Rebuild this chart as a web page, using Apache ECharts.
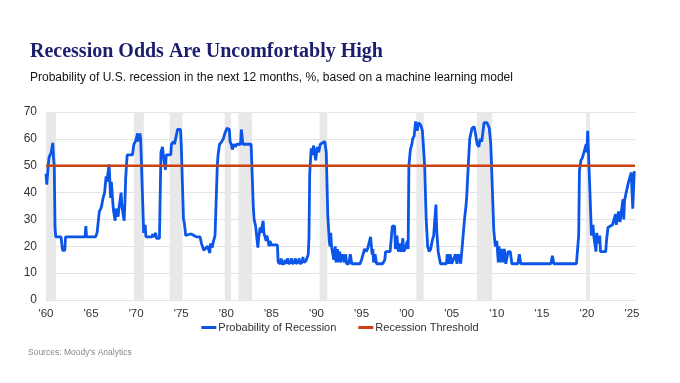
<!DOCTYPE html>
<html><head><meta charset="utf-8">
<script src="https://cdn.jsdelivr.net/npm/echarts@6/dist/echarts.min.js"></script>
<style>html,body{margin:0;padding:0;background:#fff}#c{width:680px;height:383px}</style>
</head><body><div id="c"></div>
<script>
const months = [
'1960-01','1960-02','1960-04','1960-05','1960-07','1960-08','1960-09','1960-10','1960-11','1960-12',
'1961-01','1961-02','1961-09','1961-11','1962-02','1962-03','1964-05','1964-06','1964-07','1965-07',
'1965-09','1965-12','1966-02','1966-03','1966-05','1966-07','1966-09','1966-10','1967-01','1967-03',
'1967-04','1967-06','1967-07','1967-09','1967-10','1968-01','1968-02','1968-04','1968-05','1968-06',
'1968-09','1968-10','1968-11','1969-01','1969-08','1969-10','1969-12','1970-01','1970-03','1970-04',
'1970-06','1970-07','1970-11','1971-01','1971-02','1971-10','1971-11','1972-01','1972-03','1972-04',
'1972-08','1972-10','1972-12','1973-02','1973-04','1973-05','1973-11','1973-12','1974-03','1974-04',
'1974-07','1974-08','1974-12','1975-01','1975-04','1975-05','1975-07','1975-08','1975-12','1976-03',
'1976-05','1976-09','1977-02','1977-04','1977-07','1977-09','1977-12','1978-03','1978-04','1978-06',
'1978-08','1978-10','1978-11','1979-01','1979-02','1979-04','1979-07','1979-09','1979-11','1980-02',
'1980-05','1980-06','1980-08','1980-09','1980-11','1981-01','1981-03','1981-08','1981-09','1981-11',
'1982-10','1983-01','1983-02','1983-04','1983-07','1983-08','1983-10','1983-11','1984-02','1984-03',
'1984-06','1984-07','1984-10','1984-11','1985-01','1985-09','1985-10','1986-01','1986-02','1986-03',
'1986-06','1986-07','1986-08','1986-11','1986-12','1987-03','1987-04','1987-05','1987-08','1987-09',
'1987-10','1988-01','1988-02','1988-03','1988-06','1988-07','1988-08','1988-11','1989-02','1989-03',
'1989-04','1989-06','1989-08','1989-09','1989-12','1990-02','1990-04','1990-06','1990-09','1990-12',
'1991-02','1991-04','1991-06','1991-07','1991-08','1991-09','1991-11','1991-12','1992-02','1992-03',
'1992-05','1992-06','1992-08','1992-09','1992-12','1993-02','1993-04','1993-05','1993-08','1993-10',
'1993-12','1994-11','1995-01','1995-03','1995-05','1995-07','1995-09','1996-01','1996-03','1996-04',
'1996-05','1996-07','1996-09','1997-05','1997-08','1997-09','1998-03','1998-06','1998-09','1998-10',
'1998-12','1999-02','1999-04','1999-06','1999-08','1999-09','1999-11','2000-02','2000-03','2000-04',
'2000-06','2000-08','2000-09','2000-11','2001-01','2001-03','2001-05','2001-08','2001-10','2002-01',
'2002-03','2002-05','2002-07','2002-09','2002-11','2003-01','2003-04','2003-05','2003-07','2003-10',
'2004-06','2004-07','2004-09','2004-11','2005-01','2005-06','2005-08','2005-10','2006-01','2006-03',
'2006-06','2006-08','2006-09','2006-11','2007-01','2007-04','2007-07','2007-11','2008-01','2008-03',
'2008-05','2008-08','2008-12','2009-03','2009-05','2009-06','2009-09','2009-11','2010-01','2010-03',
'2010-04','2010-05','2010-07','2010-09','2010-11','2011-01','2011-04','2011-07','2011-09','2012-05',
'2012-07','2012-09','2016-01','2016-03','2016-05','2018-11','2019-01','2019-02','2019-03','2019-05',
'2019-07','2019-09','2019-10','2019-12','2020-01','2020-02','2020-03','2020-05','2020-07','2020-09',
'2020-10','2021-01','2021-02','2021-04','2021-06','2021-07','2022-02','2022-03','2022-05','2022-07',
'2022-11','2023-01','2023-03','2023-04','2023-07','2023-09','2024-01','2024-02','2024-03','2024-06',
'2024-08','2024-12','2025-01','2025-02','2025-04'
];
const probability = [
47,43,50,53,53,55,55,58.5,53,50,
27,23.5,23.5,18.5,18.5,23.5,23.5,27.5,23.5,23.5,
25,33,34,35,38,40,46,44,50.5,38,
44,36,33,29.5,34,31,34,34,40,35,
29.5,36,45,54,54,58,59,60,62,59,
62,60,25,28,23.5,23.5,24.5,23.5,25,23,
23,55,57,52,48.5,54,54,58,59,58,
62,63.5,63.5,58,30,29,24,23.5,24.5,24.5,
24,23.5,23.5,21,18.5,18.5,20,17.5,21,19.5,
22,24,24,50,54,58,59,60,62,64,
63.5,59,57.5,56,58,57,58,58,63.5,58,
58,34,30,27.5,19.5,23,27,25,29.5,25,
22,24,20,22,20.5,20.5,14,13.5,15.5,13.5,
13.5,15,13.5,15.5,13.5,14,15.5,13.5,14,15.5,
13.5,14.5,15.5,13.5,14,16,14,14.5,17,23,
47,56.5,54,57.5,52,57,55,58,58.5,59,
55,32,22,20,25,20,20,15,20,14,
19,14,18,14,17,14,17,13.5,13.5,17,
13.5,13.5,15,17,19,18,19,23.5,17,19,
14,17,13.5,13.5,15,18,18,27.5,27.5,19,
24,18,21,18,23,18,19,22,19,50,
56,58,60,61,66.5,63,66,65,63,50,
30,20,18,19,22,24,35.5,26,18,13.5,
13.5,17,13.5,17,13.5,17,13.5,17,13.5,20,
30,35,38.5,50,60,64,64.5,58,57,60,
59,66,66,64,58,50,26,20,22,14,
20,14,19,14,19,13.5,18,18,13.5,13.5,
17,13.5,13.5,16.5,13.5,13.5,20.5,24,48,52,
53,55,55,58,55,63,55,40,24,28,
24,18,25,21,24,18,18,22,27,27,
28,28,32,28,33,29,37.5,30,37,41,
43.5,47.5,40,34,48
];
const threshold = 50;
// recession shading periods (decimal years)
const recessionStart = [1960.0, 1969.75, 1973.7, 1979.82, 1981.35, 1990.35, 2001.08, 2007.8, 2019.92];
const recessionEnd   = [1961.1, 1970.85, 1975.15, 1980.52, 1982.85, 1991.2, 2001.9, 2009.48, 2020.33];
const xStart = 1960, xEnd = 2025.33;
const yTickStep = 10, yMax = 70;

const toYear = s => { const [y, m] = s.split('-').map(Number); return y + (m - 1) / 12; };
const probData = months.map((m, i) => [toYear(m), probability[i]]);
const shade = recessionStart.map((s, i) => [{ xAxis: s }, { xAxis: recessionEnd[i] }]);

const chart = echarts.init(document.getElementById('c'), null, { renderer: 'canvas' });
const sans = "'Liberation Sans', Arial, sans-serif";
chart.setOption({
  animation: false,
  backgroundColor: '#ffffff',
  title: [
    { text: 'Recession Odds Are Uncomfortably High', left: 30, top: 42, padding: 0,
      textStyle: { fontFamily: "'Liberation Serif', 'Times New Roman', serif", fontWeight: 'bold', fontSize: 20, color: '#1b1f6e' } },
    { text: 'Probability of U.S. recession in the next 12 months, %, based on a machine learning model', left: 30, top: 72, padding: 0,
      textStyle: { fontFamily: sans, fontWeight: 'normal', fontSize: 12, color: '#111' } },
    { text: "Sources: Moody's Analytics", left: 28, top: 348, padding: 0,
      textStyle: { fontFamily: sans, fontWeight: 'normal', fontSize: 8.5, color: '#888' } }
  ],
  legend: {
    data: ['Probability of Recession', 'Recession Threshold'],
    top: 317, left: 'center', itemWidth: 15, itemHeight: 3, itemGap: 22, icon: 'rect',
    textStyle: { fontFamily: sans, fontSize: 11, color: '#333', padding: [0, 0, 0, -3] }
  },
  grid: { left: 46, right: 45, top: 112, bottom: 83, containLabel: false },
  xAxis: {
    type: 'value', min: xStart, max: xEnd, interval: 5,
    axisLine: { show: false }, axisTick: { show: false }, splitLine: { show: false },
    axisLabel: { fontFamily: sans, fontSize: 11.5, color: '#333', margin: 8, showMaxLabel: false,
      formatter: v => (Math.abs(v - Math.round(v)) < 1e-6 && Math.round(v) % 5 === 0) ? "'" + String(Math.round(v)).slice(2) : '' }
  },
  yAxis: {
    type: 'value', min: 0, max: yMax, interval: yTickStep,
    axisLine: { show: false }, axisTick: { show: false },
    splitLine: { lineStyle: { color: '#e3e3e3', width: 1 } },
    axisLabel: { fontFamily: sans, fontSize: 12, color: '#333', margin: 9 }
  },
  series: [
    { type: 'line', name: 'shade', data: [], silent: true, z: 1,
      markArea: { silent: true, itemStyle: { color: '#e8e8e8' }, data: shade } },
    { type: 'line', name: 'Probability of Recession', data: probData, showSymbol: false, z: 3,
      lineStyle: { color: '#0b55e8', width: 2.8 }, itemStyle: { color: '#0b55e8' } },
    { type: 'line', name: 'Recession Threshold', data: [[xStart, threshold], [xEnd, threshold]], showSymbol: false, z: 4,
      lineStyle: { color: '#c9420f', width: 2.6 }, itemStyle: { color: '#c9420f' } }
  ]
});
</script></body></html>
